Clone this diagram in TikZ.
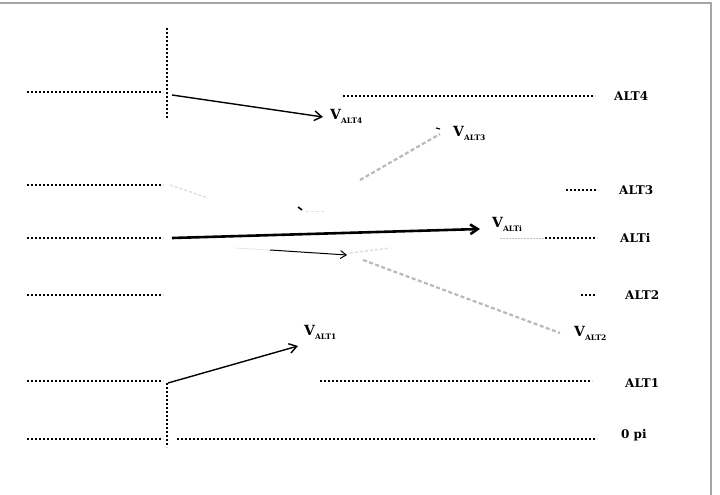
\documentclass[tikz,border=0pt]{standalone}
\usepackage{fontspec}
\setmainfont{DejaVu Serif}
\usetikzlibrary{arrows.meta}

\newcommand{\vlabel}[1]{{\fontsize{14}{16}\selectfont V}\raisebox{-4pt}{\fontsize{7.5}{9}\selectfont #1}}

\begin{document}
\begin{tikzpicture}[
  x=1pt, y=-1pt,
  lvl/.style={line width=2pt, dash pattern=on 2pt off 2pt},
  vec/.style={-{Straight Barb[length=2.6mm,width=3.4mm]}, line width=1.4pt},
  ghost/.style={gray!55, line width=2.2pt, dash pattern=on 4pt off 2.5pt},
  faint/.style={gray!25, line width=1.5pt, dash pattern=on 3pt off 2pt},
  altlab/.style={font=\fontsize{12}{14}\selectfont\bfseries, anchor=west, inner sep=0pt},
  vlab/.style={font=\bfseries, anchor=west, inner sep=0pt}
]
\useasboundingbox (0,0) rectangle (720,495);
\draw[gray!70, line width=1.3pt] (0,3) -- (711,3) -- (711,495);

% level names
\node[altlab] (alt4) at (614,96) {ALT4};
\node[altlab] (alt3) at (619,190) {ALT3};
\node[altlab] (alti) at (620,238) {ALTi};
\node[altlab] (alt2) at (625,295) {ALT2};
\node[altlab] (alt1) at (625,383) {ALT1};
\node[altlab] (zero) at (621,435) {0 pi};

% vector labels
\node[vlab] (v4) at (330,116) {\vlabel{ALT4}};
\node[vlab] (v3) at (453,133) {\vlabel{ALT3}};
\node[vlab] (vi) at (492,224) {\vlabel{ALTi}};
\node[vlab] (v2) at (574,333) {\vlabel{ALT2}};
\node[vlab] (v1) at (304,332) {\vlabel{ALT1}};

% level lines, left part
\foreach \y/\n in {92/4, 185/3, 238/i, 295/2, 381/1, 439/0} {
  \coordinate (l\n) at (27,\y);
  \coordinate (m\n) at (163,\y);
  \draw[lvl] (l\n) -- (m\n);
}
% level lines, right part
\coordinate (r4) at (343,96);   \coordinate (e4) at (595,96);
\coordinate (r3) at (566,190);  \coordinate (e3) at (598,190);
\coordinate (ri) at (545,238);  \coordinate (ei) at (597,238);
\coordinate (r2) at (581,295);  \coordinate (e2) at (596,295);
\coordinate (r1) at (320,381);  \coordinate (e1) at (592,381);
\coordinate (r0) at (177,439);  \coordinate (e0) at (597,439);
\foreach \n in {4,3,i,2,1,0}
  \draw[lvl] (r\n) -- (e\n);
\draw[gray!50, line width=0.8pt, dash pattern=on 2pt off 1pt] (500,238) -- (ri);

% phase axis
\coordinate (t0) at (167,28);  \coordinate (t1) at (167,118);
\coordinate (b0) at (167,383); \coordinate (b1) at (167,447);
\draw[lvl] (t0) -- (t1);
\draw[lvl] (b0) -- (b1);

% vectors
\coordinate (s4) at (172,95);   \coordinate (h4) at (323,117);
\coordinate (si) at (172,238);  \coordinate (hi) at (480,229);
\coordinate (s1) at (168,383);  \coordinate (h1) at (298,346);
\draw[vec] (s4) -- (h4);
\draw[vec, line width=2.6pt] (si) -- (hi);
\draw[vec] (s1) -- (h1);

% faded vectors
\coordinate (p0) at (235,248);
\coordinate (p1) at (347,255);
\draw[gray!20, line width=0.8pt] (p0) -- (270,250);
\draw[-{Straight Barb[length=2mm,width=2.8mm]}, line width=1pt] (270,250) -- (p1);
\draw[faint] (350,253) -- (390,248);
\draw[ghost] (363,260) -- (560,333);
\draw[ghost] (360,180) -- (440,134);
\draw[line width=1.2pt] (436,128) -- (440,129);
\draw[faint] (170,185) -- (208,198);
\draw[line width=1.6pt] (298,207) -- (302,210);
\draw[faint, line width=0.8pt] (306,211) -- (326,211);
\end{tikzpicture}
\end{document}
